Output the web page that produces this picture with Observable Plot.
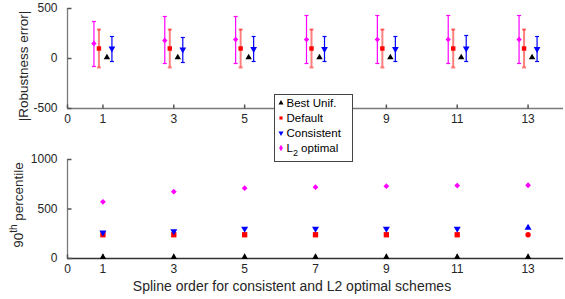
<!DOCTYPE html>
<html><head><meta charset="utf-8">
<script src="https://cdn.jsdelivr.net/npm/d3@7"></script>
<script src="https://cdn.jsdelivr.net/npm/@observablehq/plot@0.6"></script>
<style>
body{margin:0;background:#fff;}
#chart{position:relative;width:565px;height:299px;overflow:hidden;font-family:"Liberation Sans",Arial,sans-serif;background:#fff;}
#chart svg{position:absolute;left:0;}
</style></head><body><div id="chart"></div>
<script>
// ---------- data ----------
const orders = [1, 3, 5, 7, 9, 11, 13];
const xTicks = [0, 1, 3, 5, 7, 9, 11, 13];
const topXLabels = [0, 1, 3, 5, 9, 11, 13]; // label at 7 is hidden behind the legend
const topYTicks = [-500, 0, 500];
const bottomYTicks = [0, 500, 1000];
const seriesNames = ["Best Unif.", "Default", "Consistent", "L2 optimal"];
const seriesColors = ["#000000", "#ff0000", "#0000ff", "#ff00ff"];

// top panel: |Robustness error| mean and error-bar limits
const bestMean = [10, 10, 10, 10, 10, 10, 10];
const defaultMean = [100, 100, 100, 100, 100, 100, 100];
const defaultHi = [290, 290, 290, 290, 290, 290, 290];
const defaultLo = [-90, -90, -90, -90, -90, -90, -90];
const consistentMean = [100, 90, 95, 95, 95, 100, 95];
const consistentHi = [220, 210, 220, 220, 220, 230, 220];
const consistentLo = [-30, -40, -30, -30, -30, -30, -30];
const l2Mean = [150, 180, 190, 190, 190, 190, 190];
const l2Hi = [370, 420, 420, 430, 430, 430, 430];
const l2Lo = [-80, -50, -50, -50, -50, -50, -50];

// bottom panel: 90th percentile
const bestP90 = [15, 15, 15, 15, 15, 15, 15];
const defaultP90 = [240, 240, 240, 240, 240, 240, 240];
const consistentP90 = [262, 275, 300, 300, 300, 300, 310];
const l2P90 = [572, 675, 710, 720, 730, 737, 740];
const defaultP90Marker = ["square", "square", "square", "square", "square", "square", "circle"];
const consistentP90Marker = ["down", "down", "down", "down", "down", "down", "up"];

// ---------- helpers ----------
const font = '"Liberation Sans", Arial, sans-serif';
const textColor = "#262626";
const tickUp = {draw(ctx) { ctx.moveTo(0, 0); ctx.lineTo(0, -4); }};
const tickRight = {draw(ctx) { ctx.moveTo(0, 0); ctx.lineTo(4, 0); }};
const cap = {draw(ctx) { ctx.moveTo(-2, 0); ctx.lineTo(2, 0); }};

const rows = (mean, lo, hi) => orders.map((o, i) => ({order: o, mean: mean[i], lo: lo ? lo[i] : null, hi: hi ? hi[i] : null}));

const topBest = rows(bestMean);
const topDefault = rows(defaultMean, defaultLo, defaultHi);
const topCons = rows(consistentMean, consistentLo, consistentHi);
const topL2 = rows(l2Mean, l2Lo, l2Hi);

function errorBars(data, color, dx, width, opacity) {
  return [
    Plot.ruleX(data, {x: "order", y1: "lo", y2: "hi", stroke: color, strokeWidth: width, strokeOpacity: opacity, dx}),
    Plot.dot(data, {x: "order", y: "hi", symbol: cap, stroke: color, fill: "none", strokeWidth: width, strokeOpacity: opacity, dx}),
    Plot.dot(data, {x: "order", y: "lo", symbol: cap, stroke: color, fill: "none", strokeWidth: width, strokeOpacity: opacity, dx})
  ];
}

function axes(xLabels, yTicks, yDomain, xLineColor) {
  return [
    Plot.axisX(xLabels, {tickSize: 0, tickPadding: 6, tickFormat: d => String(d), fontSize: 12, fill: textColor, label: null}),
    Plot.axisY(yTicks, {tickSize: 0, tickPadding: 10, tickFormat: d => String(d), fontSize: 12, fill: textColor, label: null}),
    Plot.ruleY([yDomain[0]], {stroke: xLineColor, strokeWidth: 1.3}),
    Plot.ruleX([xTicks[0]], {stroke: "#7a7a7a", strokeWidth: 1.3}),
    Plot.dot(xTicks, {x: d => d, y: yDomain[0], symbol: tickUp, stroke: "#555", fill: "none"}),
    Plot.dot(yTicks, {x: xTicks[0], y: d => d, symbol: tickRight, stroke: "#555", fill: "none"})
  ];
}

const chart = document.getElementById("chart");
const topDomain = [topYTicks[0], topYTicks[2]];
const botDomain = [bottomYTicks[0], bottomYTicks[2]];

// ---------- top panel ----------
const topPlot = Plot.plot({
  width: 565, height: 140,
  marginTop: 8, marginBottom: 32, marginLeft: 67, marginRight: 2,
  x: {domain: [0, 14], label: null},
  y: {domain: topDomain, label: null},
  style: {fontFamily: font, fontSize: "12px", color: textColor, background: "transparent", overflow: "visible"},
  marks: [
    ...axes(topXLabels, topYTicks, topDomain, "#7a7a7a"),
    ...errorBars(topL2, seriesColors[3], -9, 1.2, 1),
    ...errorBars(topDefault, seriesColors[1], -4, 2, 0.5),
    ...errorBars(topCons, seriesColors[2], 9, 1.2, 1),
    Plot.dot(topL2, {x: "order", y: "mean", symbol: "diamond2", r: 2.4, fill: seriesColors[3], dx: -9}),
    Plot.dot(topDefault, {x: "order", y: "mean", symbol: "square", r: 2.5, fill: seriesColors[1], dx: -4}),
    Plot.dot(topBest, {x: "order", y: "mean", symbol: "triangle", r: 2.4, fill: seriesColors[0], dx: 4}),
    Plot.dot(topCons, {x: "order", y: "mean", symbol: "triangle", rotate: 180, r: 2.5, fill: seriesColors[2], dx: 9})
  ]
});
topPlot.style.top = "0px";
chart.appendChild(topPlot);

d3.select(topPlot).append("text")
  .attr("transform", "translate(28,66) rotate(-90)")
  .attr("text-anchor", "middle")
  .attr("font-family", font).attr("font-size", 13.5).attr("fill", textColor)
  .text("|Robustness error|");

// ---------- bottom panel ----------
const botBest = orders.map((o, i) => ({order: o, v: bestP90[i]}));
const botDefault = orders.map((o, i) => ({order: o, v: defaultP90[i], m: defaultP90Marker[i]}));
const botCons = orders.map((o, i) => ({order: o, v: consistentP90[i], m: consistentP90Marker[i]}));
const botL2 = orders.map((o, i) => ({order: o, v: l2P90[i]}));

const botPlot = Plot.plot({
  width: 565, height: 159,
  marginTop: 19, marginBottom: 41, marginLeft: 67, marginRight: 2,
  x: {domain: [0, 14], label: null},
  y: {domain: botDomain, label: null},
  symbol: {type: "identity"},
  style: {fontFamily: font, fontSize: "12px", color: textColor, background: "transparent", overflow: "visible"},
  marks: [
    ...axes(xTicks, bottomYTicks, botDomain, "#333"),
    Plot.dot(botL2, {x: "order", y: "v", symbol: "diamond2", r: 2.6, fill: seriesColors[3]}),
    Plot.dot(botDefault, {x: "order", y: "v", symbol: d => d.m, r: d => d.m === "circle" ? 2 : 2.5, fill: seriesColors[1]}),
    Plot.dot(botCons, {x: "order", y: "v", symbol: "triangle", rotate: d => d.m === "up" ? 0 : 180, r: 2.6, fill: seriesColors[2]}),
    Plot.dot(botBest, {x: "order", y: "v", symbol: "triangle", r: 2.4, fill: seriesColors[0]})
  ]
});
botPlot.style.top = "140px";
chart.appendChild(botPlot);

const yl = d3.select(botPlot).append("text")
  .attr("transform", "translate(23,65) rotate(-90)")
  .attr("text-anchor", "middle")
  .attr("font-family", font).attr("font-size", 13.5).attr("fill", textColor);
yl.append("tspan").text("90");
yl.append("tspan").attr("font-size", 10).attr("dy", -6).text("th");
yl.append("tspan").attr("dy", 6).text(" percentile");

d3.select(botPlot).append("text")
  .attr("x", 292).attr("y", 151)
  .attr("text-anchor", "middle")
  .attr("font-family", font).attr("font-size", 14).attr("fill", textColor)
  .text("Spline order for consistent and L2 optimal schemes");

// ---------- legend ----------
const leg = d3.select(chart).append("svg")
  .attr("width", 565).attr("height", 299)
  .style("top", "0px").style("pointer-events", "none");
leg.append("rect").attr("x", 274.5).attr("y", 94.5).attr("width", 78).attr("height", 67)
  .attr("fill", "#fff").attr("stroke", "#444").attr("stroke-width", 1);
const legSymbols = [d3.symbolTriangle, d3.symbolSquare, d3.symbolTriangle, d3.symbolDiamond];
const legRotate = [0, 0, 180, 0];
const legSizes = [11, 10, 11, 12];
seriesNames.forEach((name, i) => {
  const y = 103 + i * 15;
  leg.append("path")
    .attr("d", d3.symbol(legSymbols[i], legSizes[i])())
    .attr("transform", `translate(281,${y}) rotate(${legRotate[i]})`)
    .attr("fill", seriesColors[i]);
  const t = leg.append("text").attr("x", 286.5).attr("y", y + 4)
    .attr("font-family", font).attr("font-size", 11.5).attr("fill", "#000");
  if (name === "L2 optimal") {
    t.append("tspan").text("L");
    t.append("tspan").attr("font-size", 9).attr("dy", 4).text("2");
    t.append("tspan").attr("dy", -4).text(" optimal");
  } else {
    t.text(name);
  }
});
</script></body></html>
